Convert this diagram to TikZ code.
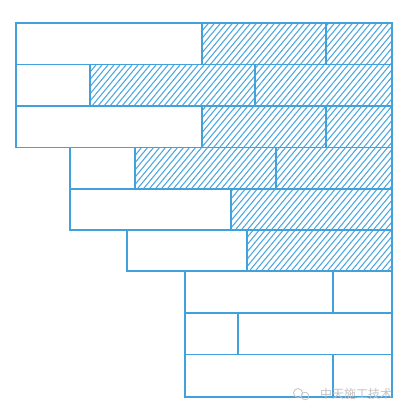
\documentclass[tikz,border=0pt]{standalone}
\usepackage{fontspec}
\newfontfamily\cjkfont{Noto Sans CJK SC}
\definecolor{brick}{RGB}{66,160,218}
\definecolor{hatchc}{RGB}{76,166,224}
\definecolor{wmark}{RGB}{195,195,195}
\tikzset{
  brickbox/.style={draw=brick, line width=1.3pt},
  hatchline/.style={draw=hatchc, line width=1.05pt},
  wmtext/.style={text=wmark, font=\cjkfont\fontsize{12}{12}\selectfont, inner sep=0pt}
}
\begin{document}
\begin{tikzpicture}[x=1pt,y=-1pt]
\useasboundingbox (0,0) rectangle (408,414);
\fill[white] (0,0) rectangle (408,414);
% hatching of the right-hand region
\begin{scope}
  \clip (202,23) -- (392,23) -- (392,271) -- (247,271) -- (247,230) -- (231,230)
        -- (231,189) -- (135,189) -- (135,147.5) -- (202,147.5) -- (202,106)
        -- (90,106) -- (90,64.5) -- (202,64.5) -- cycle;
  \foreach \c in {-150,-144,...,400} {
    \draw[hatchline] (\c,275) -- ({\c+212},19);
  }
\end{scope}
% bricks: row tops 23,64.5,106,147.5,189,230,271,313,354.5 bottom 397
\foreach \ya/\yb/\xa/\xb in {
  23/64.5/16/202, 23/64.5/202/326, 23/64.5/326/392,
  64.5/106/16/90, 64.5/106/90/255, 64.5/106/255/392,
  106/147.5/16/202, 106/147.5/202/326, 106/147.5/326/392,
  147.5/189/70/135, 147.5/189/135/276, 147.5/189/276/392,
  189/230/70/231, 189/230/231/392,
  230/271/127/247, 230/271/247/392,
  271/313/185/333, 271/313/333/392,
  313/354.5/185/238, 313/354.5/238/392,
  354.5/397/185/333, 354.5/397/333/392} {
  \draw[brickbox] (\xa,\ya) rectangle (\xb,\yb);
}
% watermark
\draw[wmark, line width=0.8pt] (298,393) circle[radius=4.5];
\draw[wmark, line width=0.8pt] (305,396) circle[radius=3.8];
\node[wmtext, anchor=west] (wm) at (320,394) {中天施工技术};
\end{tikzpicture}
\end{document}
